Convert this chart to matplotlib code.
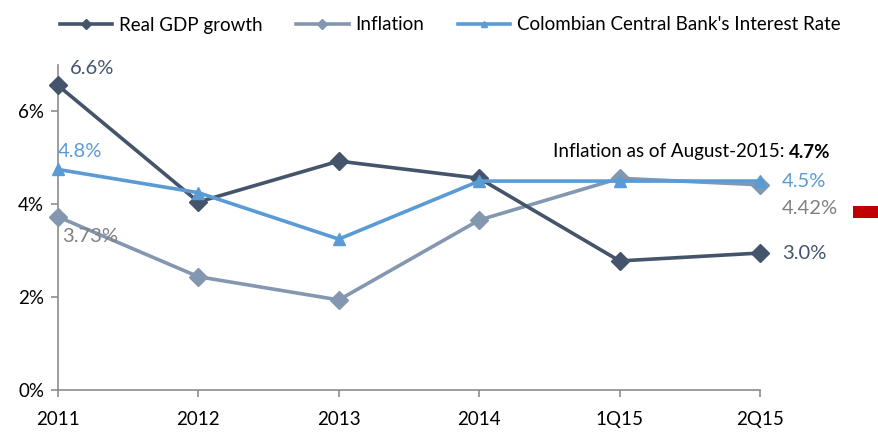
import matplotlib
matplotlib.use("Agg")
import matplotlib.pyplot as plt
from matplotlib.lines import Line2D
from matplotlib.patches import Rectangle

periods = ["2011", "2012", "2013", "2014", "1Q15", "2Q15"]
gdp = [6.56, 4.05, 4.93, 4.56, 2.78, 2.95]
inflation = [3.73, 2.44, 1.94, 3.66, 4.56, 4.42]
interest = [4.75, 4.25, 3.25, 4.50, 4.50, 4.50]
yticks = [0, 2, 4, 6]

c_gdp = "#44546A"
c_inf = "#8497B0"
c_int = "#5B9BD5"

plt.rcParams["font.family"] = ["Lato", "DejaVu Sans"]

fig = plt.figure(figsize=(8.79, 4.33), dpi=100)
ax = fig.add_axes([58/879, 1-390/433, (760-58)/879, (390-65)/433])

x = list(range(len(periods)))
ax.plot(x, gdp, color=c_gdp, lw=2.6, marker="D", ms=9, zorder=4, clip_on=False)
ax.plot(x, inflation, color=c_inf, lw=2.6, marker="D", ms=9, zorder=3, clip_on=False)
ax.plot(x, interest, color=c_int, lw=2.6, marker="^", ms=9, zorder=5, clip_on=False)

ax.set_xlim(0, 5)
ax.set_ylim(0, 7)
ax.set_xticks(x)
ax.set_xticklabels(periods, fontsize=13.5)
ax.set_yticks(yticks)
ax.set_yticklabels([f"{v}%" for v in yticks], fontsize=13.5)
for s in ["top", "right"]:
    ax.spines[s].set_visible(False)
for s in ["left", "bottom"]:
    ax.spines[s].set_color("#8C8C8C")
    ax.spines[s].set_linewidth(1.2)
ax.tick_params(axis="both", color="#8C8C8C", width=1.2, length=5, labelcolor="black")
ax.tick_params(axis="x", pad=10)
ax.tick_params(axis="y", pad=5)

# data labels
lfs = 14.5
ax.text(0.085, 6.93, "6.6%", color=c_gdp, fontsize=lfs, va="center", ha="left", clip_on=False)
ax.text(0.0, 5.13, "4.8%", color=c_int, fontsize=lfs, va="center", ha="left", clip_on=False)
ax.text(0.03, 3.30, "3.73%", color="#808080", fontsize=lfs, va="center", ha="left", clip_on=False)
ax.text(5.157, 4.48, "4.5%", color=c_int, fontsize=lfs, va="center", ha="left", clip_on=False)
ax.text(5.157, 3.92, "4.42%", color="#808080", fontsize=lfs, va="center", ha="left", clip_on=False)
ax.text(5.157, 2.93, "3.0%", color=c_gdp, fontsize=lfs, va="center", ha="left", clip_on=False)

# annotation
fig.text(785/879, 1-152/433, "Inflation as of August-2015:", fontsize=13.5, ha="right", va="center", color="black")
fig.text(789/879, 1-152/433, "4.7%", fontsize=13.5, ha="left", va="center", color="black", fontweight="bold")

# red marker at right
fig.patches.append(Rectangle((853/879, 1-218/433), 26/879, 12/433, transform=fig.transFigure,
                             facecolor="#C00000", edgecolor="none"))

handles = [
    Line2D([], [], color=c_gdp, lw=2.6, marker="D", ms=5),
    Line2D([], [], color=c_inf, lw=2.6, marker="D", ms=5),
    Line2D([], [], color=c_int, lw=2.6, marker="^", ms=5),
]
labels = ["Real GDP growth", "Inflation", "Colombian Central Bank's Interest Rate"]
fig.legend(handles, labels, loc="center", bbox_to_anchor=(450/879, 1-25/433), ncol=3,
           frameon=False, fontsize=13.5, handlelength=2.8, handletextpad=0.35, columnspacing=1.8)

fig.savefig("out.png", dpi=100)
